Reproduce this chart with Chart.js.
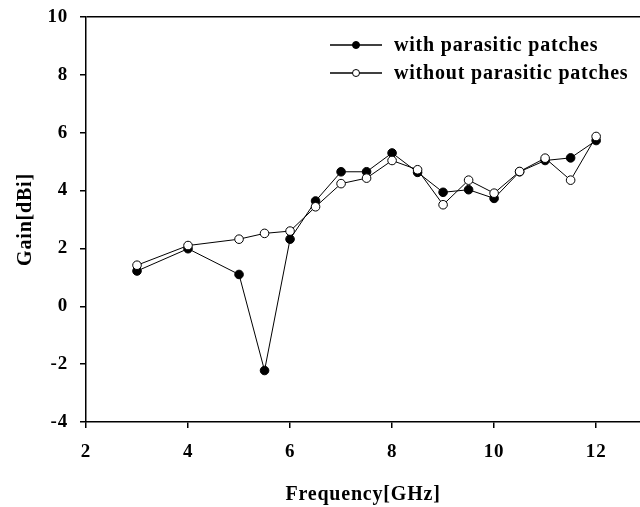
<!DOCTYPE html>
<html>
<head>
<meta charset="utf-8">
<script src="https://cdn.jsdelivr.net/npm/chart.js"></script>
<style>
  html, body { margin: 0; padding: 0; background: #fff; }
  #wrap { width: 640px; height: 507px; }
</style>
</head>
<body>
<div id="wrap"><canvas id="gainChart" width="640" height="507"></canvas></div>
<script>
// values
const freqGHz = [3, 4, 5, 5.5, 6, 6.5, 7, 7.5, 8, 8.5, 9, 9.5, 10, 10.5, 11, 11.5, 12];
const gainWith = [1.22, 1.99, 1.1, -2.22, 2.32, 3.64, 4.65, 4.65, 5.3, 4.63, 3.94, 4.03, 3.73, 4.65, 5.04, 5.13, 5.73];
const gainWithout = [1.42, 2.1, 2.32, 2.52, 2.6, 3.44, 4.24, 4.43, 5.04, 4.72, 3.51, 4.36, 3.91, 4.66, 5.12, 4.36, 5.87];
const seriesLabels = ['with parasitic patches', 'without parasitic patches'];
const xTicks = [2, 4, 6, 8, 10, 12];
const yTicks = [-4, -2, 0, 2, 4, 6, 8, 10];

const serif = "'Liberation Serif', 'Times New Roman', serif";

function toPoints(ys) {
  return freqGHz.map((f, i) => ({ x: f, y: ys[i] }));
}

// the original text is set a bit wider than Liberation Serif
const wideText = {
  id: 'wideText',
  beforeDraw(chart) {
    chart.ctx.letterSpacing = '0.8px';
  }
};

// legend drawn inside the plot, top right, line + marker like the original
const insideLegend = {
  id: 'insideLegend',
  afterDraw(chart) {
    const ctx = chart.ctx;
    const rows = [
      { text: seriesLabels[0], fill: '#000', y: 45 },
      { text: seriesLabels[1], fill: '#fff', y: 73 }
    ];
    ctx.save();
    rows.forEach(r => {
      ctx.strokeStyle = '#000';
      ctx.lineWidth = 1.5;
      ctx.beginPath();
      ctx.moveTo(330, r.y);
      ctx.lineTo(382, r.y);
      ctx.stroke();
      ctx.beginPath();
      ctx.arc(356, r.y, 3.5, 0, Math.PI * 2);
      ctx.fillStyle = r.fill;
      ctx.fill();
      ctx.lineWidth = 1;
      ctx.stroke();
      ctx.fillStyle = '#000';
      ctx.font = 'bold 20px ' + serif;
      ctx.letterSpacing = '0.8px';
      ctx.textBaseline = 'middle';
      ctx.textAlign = 'left';
      ctx.fillText(r.text, 394, r.y + 1);
    });
    ctx.restore();
  }
};

new Chart(document.getElementById('gainChart'), {
  type: 'line',
  data: {
    datasets: [
      {
        label: seriesLabels[0],
        data: toPoints(gainWith),
        borderColor: '#000',
        borderWidth: 1,
        backgroundColor: '#000',
        pointBackgroundColor: '#000',
        pointBorderColor: '#000',
        pointBorderWidth: 1,
        pointRadius: 4.3,
        tension: 0,
        order: 2
      },
      {
        label: seriesLabels[1],
        data: toPoints(gainWithout),
        borderColor: '#000',
        borderWidth: 1,
        backgroundColor: '#fff',
        pointBackgroundColor: '#fff',
        pointBorderColor: '#000',
        pointBorderWidth: 1,
        pointRadius: 4.3,
        tension: 0,
        order: 1
      }
    ]
  },
  options: {
    responsive: false,
    animation: false,
    layout: { autoPadding: false, padding: { top: 17, right: 0, left: 0, bottom: 0 } },
    plugins: {
      legend: { display: false },
      tooltip: { enabled: false }
    },
    scales: {
      x: {
        type: 'linear',
        min: 2,
        max: 12.86,
        afterBuildTicks: s => { s.ticks = xTicks.map(v => ({ value: v })); },
        afterFit: s => { s.height = 85; s.paddingLeft = 0; s.paddingRight = 0; },
        border: { display: true, color: '#000', width: 1.5 },
        grid: { drawOnChartArea: false, tickLength: 6, tickColor: '#000', lineWidth: 1.5 },
        ticks: {
          color: '#000',
          padding: 13,
          maxRotation: 0,
          font: { family: serif, size: 19, weight: 'bold' }
        },
        title: {
          display: true,
          text: 'Frequency[GHz]',
          color: '#000',
          padding: { top: 0, bottom: 0 },
          font: { family: serif, size: 20, weight: 'bold' }
        }
      },
      y: {
        type: 'linear',
        min: -4,
        max: 10,
        afterBuildTicks: s => { s.ticks = yTicks.map(v => ({ value: v })); },
        afterFit: s => { s.width = 86; s.paddingTop = 0; s.paddingBottom = 0; },
        border: { display: true, color: '#000', width: 1.5 },
        grid: {
          drawOnChartArea: true,
          color: c => (c.tick && c.tick.value === 10 ? '#000' : 'rgba(0,0,0,0)'),
          tickColor: '#000',
          tickLength: 6,
          lineWidth: 1.5
        },
        ticks: {
          color: '#000',
          padding: 12,
          font: { family: serif, size: 19, weight: 'bold' }
        },
        title: {
          display: true,
          text: 'Gain[dBi]',
          color: '#000',
          padding: { top: 14, bottom: 0 },
          font: { family: serif, size: 20, weight: 'bold' }
        }
      }
    }
  },
  plugins: [wideText, insideLegend]
});
</script>
</body>
</html>
